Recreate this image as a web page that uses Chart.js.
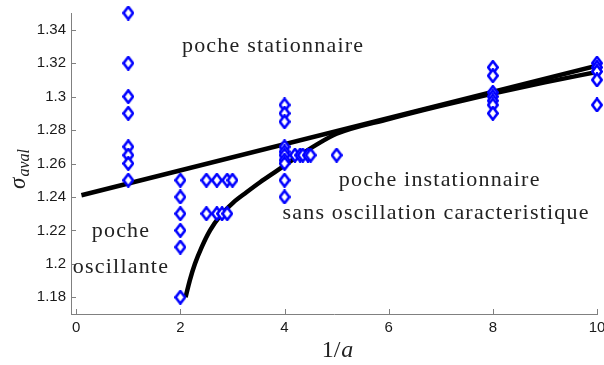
<!DOCTYPE html>
<html>
<head>
<meta charset="utf-8">
<script src="https://cdn.jsdelivr.net/npm/chart.js@4.4.0/dist/chart.umd.min.js"></script>
<style>
  html, body { margin: 0; padding: 0; background: #fff; }
</style>
</head>
<body>
<canvas id="sigmaChart" width="604" height="365"></canvas>
<script>
// tick labels
const xTicks = [0, 2, 4, 6, 8, 10];
const yTicks = [1.18, 1.2, 1.22, 1.24, 1.26, 1.28, 1.3, 1.32, 1.34];

// measured points (blue diamonds)
const measX = [
  1, 1, 1, 1, 1, 1, 1, 1,
  2, 2, 2, 2, 2, 2,
  2.5, 2.7, 2.9, 3.0,
  2.5, 2.7, 2.8, 2.9,
  4, 4, 4, 4, 4, 4, 4, 4, 4, 4,
  4.2, 4.3, 4.35, 4.45, 4.5, 5,
  8, 8, 8, 8, 8, 8, 8,
  10, 10, 10, 10, 10
];
const measY = [
  1.35, 1.32, 1.30, 1.29, 1.27, 1.265, 1.26, 1.25,
  1.25, 1.24, 1.23, 1.22, 1.21, 1.18,
  1.25, 1.25, 1.25, 1.25,
  1.23, 1.23, 1.23, 1.23,
  1.295, 1.29, 1.285, 1.27, 1.267, 1.265, 1.262, 1.26, 1.25, 1.24,
  1.265, 1.265, 1.265, 1.265, 1.265, 1.265,
  1.3175, 1.3125, 1.3025, 1.30, 1.2975, 1.295, 1.29,
  1.32, 1.3175, 1.315, 1.31, 1.295
];

// upper straight boundary
const trendX = [0.1, 10];
const trendY = [1.241, 1.3185];

// lower curved boundary
const curveX = [2.1, 2.18, 2.28, 2.41, 2.57, 2.76, 3.01, 3.27, 3.53, 3.85, 4.2, 4.6, 5, 6, 7, 8, 9, 10];
const curveY = [1.18, 1.19, 1.2, 1.21, 1.22, 1.2285, 1.2365, 1.2428, 1.2488, 1.2556, 1.263, 1.271, 1.2778, 1.2866, 1.2945, 1.3018, 1.3085, 1.3148];

const toXY = (xs, ys) => xs.map((v, i) => ({ x: v, y: ys[i] }));

// open diamond marker, a bit taller than wide
const diamond = document.createElement('canvas');
diamond.width = 12;
diamond.height = 15;
(function () {
  const c = diamond.getContext('2d');
  c.beginPath();
  c.moveTo(6, 1.3);
  c.lineTo(10.7, 7.5);
  c.lineTo(6, 13.7);
  c.lineTo(1.3, 7.5);
  c.closePath();
  c.fillStyle = '#fff';
  c.fill();
  c.lineWidth = 2.6;
  c.strokeStyle = '#0000ff';
  c.stroke();
})();

const notes = [
  { text: 'poche stationnaire', x: 3.78, y: 1.330 },
  { text: 'poche instationnaire', x: 6.98, y: 1.2502 },
  { text: 'sans oscillation caracteristique', x: 6.91, y: 1.2304 },
  { text: 'poche', x: 0.86, y: 1.2197 },
  { text: 'oscillante', x: 0.86, y: 1.1982 }
];

const axisGray = '#808080';

const decorations = {
  id: 'decorations',
  beforeDatasetsDraw(chart) {
    const { ctx, chartArea: a, scales: { x, y } } = chart;
    ctx.save();
    ctx.strokeStyle = axisGray;
    ctx.lineWidth = 1;
    ctx.beginPath();
    xTicks.forEach(v => {
      const px = Math.round(x.getPixelForValue(v)) + 0.5;
      ctx.moveTo(px, a.bottom);
      ctx.lineTo(px, a.bottom - 5);
    });
    yTicks.forEach(v => {
      const py = Math.round(y.getPixelForValue(v)) + 0.5;
      ctx.moveTo(a.left, py);
      ctx.lineTo(a.left + 5, py);
    });
    ctx.stroke();
    ctx.restore();
  },
  afterDraw(chart) {
    const { ctx, chartArea: a, scales: { x, y } } = chart;
    ctx.save();
    ctx.fillStyle = '#222';
    ctx.textAlign = 'center';
    ctx.textBaseline = 'middle';
    ctx.font = '22px "Liberation Serif"';
    ctx.letterSpacing = '1.2px';
    notes.forEach(n => {
      ctx.fillText(n.text, x.getPixelForValue(n.x), y.getPixelForValue(n.y));
    });
    ctx.letterSpacing = '0px';

    // x title: 1/a
    const cx = (a.left + a.right) / 2 + 3;
    const ty = 357;
    ctx.textAlign = 'left';
    ctx.textBaseline = 'alphabetic';
    ctx.font = 'italic 24px "Liberation Serif"';
    const wA = ctx.measureText('a').width;
    ctx.font = '24px "Liberation Serif"';
    const w1 = ctx.measureText('1/').width;
    const sx = cx - (w1 + wA) / 2;
    ctx.fillText('1/', sx, ty);
    ctx.font = 'italic 24px "Liberation Serif"';
    ctx.fillText('a', sx + w1 + 1, ty);

    // y title: sigma_aval
    ctx.translate(25, (a.top + a.bottom) / 2 + 6);
    ctx.rotate(-Math.PI / 2);
    ctx.font = 'italic 23px "Liberation Serif"';
    const wS = ctx.measureText('σ').width;
    ctx.font = 'italic 16px "Liberation Serif"';
    const wSub = ctx.measureText('aval').width;
    const start = -(wS + wSub) / 2;
    ctx.font = 'italic 23px "Liberation Serif"';
    ctx.fillText('σ', start, 0);
    ctx.font = 'italic 16px "Liberation Serif"';
    ctx.fillText('aval', start + wS + 1, 4);
    ctx.restore();
  }
};

new Chart(document.getElementById('sigmaChart'), {
  type: 'scatter',
  data: {
    datasets: [
      {
        data: toXY(measX, measY),
        pointStyle: diamond,
        pointRadius: 6,
        showLine: false,
        clip: false
      },
      {
        data: toXY(trendX, trendY),
        showLine: true,
        borderColor: '#000',
        borderWidth: 4.5,
        borderCapStyle: 'butt',
        pointRadius: 0
      },
      {
        data: toXY(curveX, curveY),
        showLine: true,
        borderColor: '#000',
        borderWidth: 4.5,
        borderCapStyle: 'butt',
        cubicInterpolationMode: 'monotone',
        pointRadius: 0
      }
    ]
  },
  options: {
    responsive: false,
    animation: false,
    layout: { padding: { top: 13, right: 6, left: 0, bottom: 0 } },
    plugins: {
      legend: false,
      tooltip: { enabled: false }
    },
    scales: {
      x: {
        type: 'linear',
        min: -0.1,
        max: 10,
        afterBuildTicks: s => { s.ticks = xTicks.map(v => ({ value: v })); },
        afterFit: s => { s.height = 51; s.paddingRight = 0; s.paddingLeft = 0; },
        grid: { display: false, drawTicks: false },
        border: { color: axisGray, width: 1 },
        ticks: {
          padding: 5,
          color: '#1a1a1a',
          font: { family: '"Liberation Sans", Arial', size: 15 },
          maxRotation: 0,
          callback: v => String(v)
        }
      },
      y: {
        type: 'linear',
        min: 1.17,
        max: 1.35,
        afterBuildTicks: s => { s.ticks = yTicks.map(v => ({ value: v })); },
        afterFit: s => { s.width = 71; s.paddingTop = 0; s.paddingBottom = 0; },
        grid: { display: false, drawTicks: false },
        border: { color: axisGray, width: 1 },
        ticks: {
          padding: 5,
          color: '#1a1a1a',
          font: { family: '"Liberation Sans", Arial', size: 15 },
          callback: v => String(+v.toFixed(2))
        }
      }
    }
  },
  plugins: [decorations]
});
</script>
</body>
</html>
